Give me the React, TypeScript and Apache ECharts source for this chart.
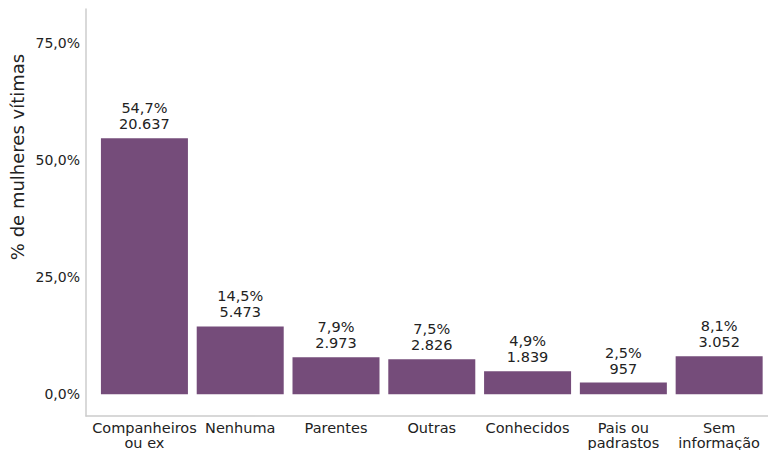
import React, { useEffect, useRef } from "react";
import * as echarts from "echarts";

const categories = [
  "Companheiros\nou ex",
  "Nenhuma",
  "Parentes",
  "Outras",
  "Conhecidos",
  "Pais ou\npadrastos",
  "Sem\ninformação",
];
const percentValues = [54.7, 14.5, 7.9, 7.5, 4.9, 2.5, 8.1];
const countLabels = ["20.637", "5.473", "2.973", "2.826", "1.839", "957", "3.052"];
const yTicks = [0, 25, 50, 75];
const yAxisTitle = "% de mulheres vítimas";

const FONT = "DejaVu Sans";

export default function App() {
  const ref = useRef<HTMLDivElement>(null);
  useEffect(() => {
    if (!ref.current) return;
    const chart = echarts.init(ref.current, undefined, { renderer: "svg" });
    chart.setOption({
      animation: false,
      textStyle: { fontFamily: FONT },
      grid: {
        left: 86,
        right: 0,
        top: 9,
        bottom: 34,
        containLabel: false,
        outerBoundsMode: "none",
      },
      xAxis: {
        type: "value",
        min: -0.61,
        max: 6.51,
        splitLine: { show: false },
        axisLine: { show: true, onZero: false, lineStyle: { color: "#cccccc", width: 1.5 } },
        axisTick: { show: false },
        axisLabel: {
          customValues: categories.map((_, i) => i),
          formatter: (v: number) => categories[Math.round(v)] ?? "",
          color: "#222",
          fontSize: 14.5,
          fontFamily: FONT,
          lineHeight: 15,
          margin: 4,
        },
      },
      yAxis: {
        type: "value",
        min: -4.64,
        max: 82.3,
        splitLine: { show: false },
        axisLine: { show: true, onZero: false, lineStyle: { color: "#cccccc", width: 1.5 } },
        axisTick: { show: false },
        axisLabel: {
          customValues: yTicks,
          formatter: (v: number) => v.toFixed(1).replace(".", ",") + "%",
          color: "#222",
          fontSize: 14,
          fontFamily: FONT,
          margin: 6,
        },
      },
      graphic: [
        {
          type: "text",
          x: 17,
          y: 157,
          rotation: Math.PI / 2,
          style: {
            text: yAxisTitle,
            fontSize: 18,
            fontFamily: FONT,
            fill: "#222",
            align: "center",
            verticalAlign: "middle",
          },
        },
      ],
      series: [
        {
          type: "bar",
          barWidth: 87,
          itemStyle: { color: "#754C7A" },
          data: percentValues.map((v, i) => [i, v]),
          label: {
            show: true,
            position: "top",
            distance: 6,
            color: "#222",
            fontSize: 14.5,
            fontFamily: FONT,
            lineHeight: 16,
            align: "center",
            formatter: (p: any) =>
              p.value[1].toFixed(1).replace(".", ",") + "%\n" + countLabels[p.dataIndex],
          },
        },
      ],
    });
    return () => chart.dispose();
  }, []);
  return (
    <div
      ref={ref}
      style={{ position: "fixed", left: 0, top: 0, width: 768, height: 450, background: "#fff" }}
    />
  );
}
